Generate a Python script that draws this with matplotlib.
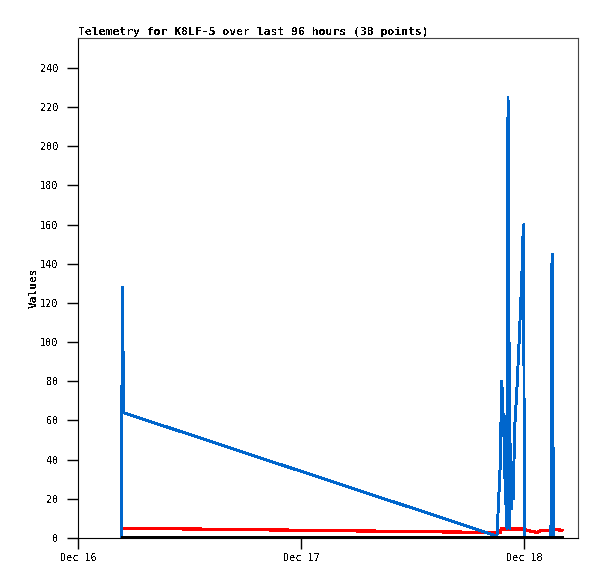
"""
Telemetry plot for K8LF-5, last 96 hours.
"""
import datetime as dt

import matplotlib
matplotlib.use("Agg")
import matplotlib.pyplot as plt

START = dt.datetime(2023, 12, 16)

# sample times, hours after Dec 16 00:00
HOURS = [4.63, 4.68, 4.79, 4.90, 45.09, 45.47, 45.58, 45.69, 45.79, 45.85,
         45.96, 46.06, 46.17, 46.28, 46.38, 46.46, 46.55, 46.65, 46.74, 46.85,
         46.98, 47.14, 47.28, 47.39, 47.52, 47.62, 47.73, 47.82, 47.89, 47.97,
         48.03, 48.64, 49.40, 49.83, 50.90, 50.96, 51.07, 51.15, 52.20]

BLUE = [0, 32, 128, 64, 1, 40, 80, 74, 52, 63,
        28, 17, 5, 225, 112, 5, 48, 15, 31, 20,
        55, 68, 80, 92, 105, 117, 129, 141, 154, 160,
        0, 0, 0, 0, 0, 136, 145, 0, 0]

RED = [5.0, 5.0, 5.0, 5.0, 2.8, 3.0, 5.0, 4.6, 4.6, 4.6,
       4.6, 4.6, 4.6, 4.6, 4.6, 4.6, 4.6, 4.6, 4.6, 4.6,
       4.6, 4.6, 4.6, 4.6, 4.6, 4.6, 4.6, 4.6, 4.6, 4.8,
       4.2, 3.6, 2.8, 4.0, 4.0, 4.2, 4.2, 4.6, 3.8]

BLACK = [0] * len(HOURS)

Y_TICKS = list(range(0, 241, 20))
X_TICKS = [0, 24, 48]
X_TICK_LABELS = ["Dec 16", "Dec 17", "Dec 18"]

FONT = "DejaVu Sans Mono"
plt.rcParams["text.antialiased"] = False

times = [START + dt.timedelta(hours=h) for h in HOURS]

fig = plt.figure(figsize=(5.97, 5.79), dpi=100)
ax = fig.add_axes([78 / 597, 41 / 579, 500 / 597, 500 / 579])

# old-school bitmap look: no antialiasing on the traces
ax.plot(times, RED, color="#ff0000", lw=1.6, solid_capstyle="butt",
        antialiased=False, zorder=2)
ax.plot(times, BLUE, color="#0066cc", lw=1.4, solid_capstyle="butt",
        antialiased=False, zorder=3)
ax.plot(times, BLACK, color="black", lw=2.2, solid_capstyle="butt",
        antialiased=False, zorder=4)

ax.set_xlim(START, START + dt.timedelta(hours=24 * 500 / 223))
ax.set_ylim(0, 255.3)

ax.set_yticks(Y_TICKS)
ax.set_xticks([START + dt.timedelta(hours=h) for h in X_TICKS])
ax.set_xticklabels(X_TICK_LABELS)
ax.tick_params(direction="out", length=8, width=1, labelsize=7.3,
               colors="black")
ax.tick_params(axis="x", pad=3)
ax.tick_params(axis="y", pad=6)
for lab in ax.get_xticklabels() + ax.get_yticklabels():
    lab.set_family(FONT)

for side in ("top", "right"):
    ax.spines[side].set_color("#444444")
for side in ("left", "bottom"):
    ax.spines[side].set_color("black")

ax.set_ylabel("Values", family=FONT, fontweight="bold", fontsize=8, labelpad=1)
ax.set_title("Telemetry for K8LF-5 over last 96 hours (38 points)",
             loc="left", family=FONT, fontweight="bold", fontsize=8.2, pad=2)

fig.savefig("out.png", dpi=100)
